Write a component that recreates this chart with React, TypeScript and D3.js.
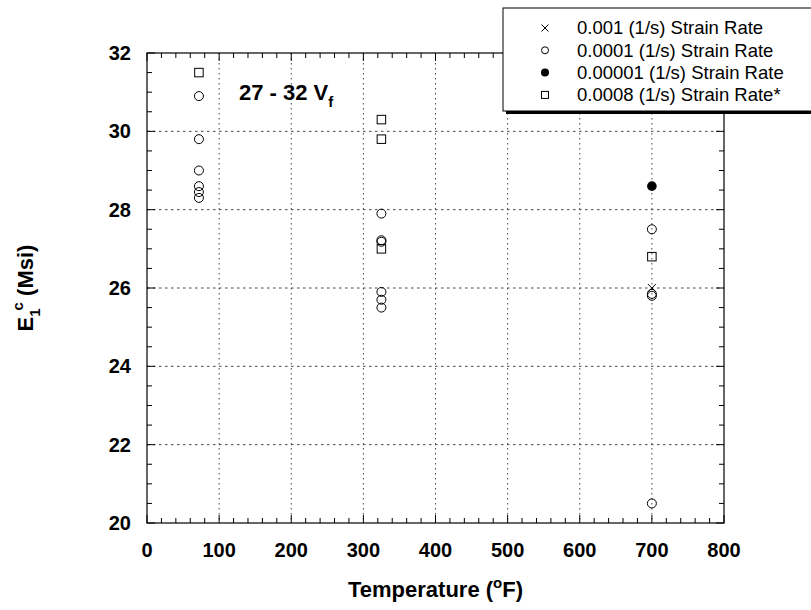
import React from "react";
import * as d3 from "d3";

// ---- data ----
const seriesLabels = [
  "0.001 (1/s) Strain Rate",
  "0.0001 (1/s) Strain Rate",
  "0.00001 (1/s) Strain Rate",
  "0.0008 (1/s) Strain Rate*",
];
const rate001Temp = [700];
const rate001E = [26.0];
const rate0001Temp = [72, 72, 72, 72, 72, 72, 325, 325, 325, 325, 325, 325, 700, 700, 700, 700];
const rate0001E = [30.9, 29.8, 29.0, 28.6, 28.45, 28.3, 27.9, 27.22, 27.18, 25.9, 25.7, 25.5, 27.5, 25.85, 25.8, 20.5];
const rate00001Temp = [700];
const rate00001E = [28.6];
const rate0008Temp = [72, 325, 325, 325, 700];
const rate0008E = [31.5, 30.3, 29.8, 27.0, 26.8];
const xTicks = [0, 100, 200, 300, 400, 500, 600, 700, 800];
const yTicks = [20, 22, 24, 26, 28, 30, 32];

const W = 811, H = 610;
const M = { left: 147, right: 724, top: 53, bottom: 523 };
const FONT = "'Liberation Sans', Arial, Helvetica, sans-serif";

export default function App() {
  const x = d3.scaleLinear().domain([0, 800]).range([M.left, M.right]);
  const y = d3.scaleLinear().domain([20, 32]).range([M.bottom, M.top]);
  const xMinor = d3.range(0, 800.001, 20);
  const yMinor = d3.range(20, 32.001, 0.5);
  const isMajorX = (v: number) => Math.abs(v % 100) < 1e-6;
  const isMajorY = (v: number) => Math.abs(v % 2) < 1e-6;
  const r = 4.5;
  const sq = 8.5;
  const cross = (cx: number, cy: number, s: number, key: string) => (
    <g key={key} stroke="#000" strokeWidth={1}>
      <line x1={cx - s} y1={cy - s} x2={cx + s} y2={cy + s} />
      <line x1={cx - s} y1={cy + s} x2={cx + s} y2={cy - s} />
    </g>
  );

  return (
    <svg width={W} height={H} style={{ position: "absolute", left: 0, top: 0, background: "#fff" }} fontFamily={FONT}>
      <rect x={0} y={0} width={W} height={H} fill="#fff" />
      {/* grid */}
      {xTicks.slice(1, -1).map((v) => (
        <line key={"gx" + v} x1={x(v)} x2={x(v)} y1={M.top} y2={M.bottom} stroke="#444" strokeWidth={1} strokeDasharray="1.5,3.5" />
      ))}
      {yTicks.slice(1, -1).map((v) => (
        <line key={"gy" + v} x1={M.left} x2={M.right} y1={y(v)} y2={y(v)} stroke="#444" strokeWidth={1} strokeDasharray="2.5,3.5" />
      ))}
      {/* ticks inward on all sides */}
      {xMinor.map((v) => {
        const L = isMajorX(v) ? 8 : 5;
        return (
          <g key={"tx" + v} stroke="#000" strokeWidth={1}>
            <line x1={x(v)} x2={x(v)} y1={M.bottom} y2={M.bottom - L} />
            <line x1={x(v)} x2={x(v)} y1={M.top} y2={M.top + L} />
          </g>
        );
      })}
      {yMinor.map((v) => {
        const L = isMajorY(v) ? 8 : 5;
        return (
          <g key={"ty" + v} stroke="#000" strokeWidth={1}>
            <line x1={M.left} x2={M.left + L} y1={y(v)} y2={y(v)} />
            <line x1={M.right} x2={M.right - L} y1={y(v)} y2={y(v)} />
          </g>
        );
      })}
      {/* frame */}
      <rect x={M.left} y={M.top} width={M.right - M.left} height={M.bottom - M.top} fill="none" stroke="#000" strokeWidth={1.2} />
      {/* tick labels */}
      {xTicks.map((v) => (
        <text key={"lx" + v} x={x(v)} y={557} textAnchor="middle" fontSize={20} fontWeight="bold">{v}</text>
      ))}
      {yTicks.map((v) => (
        <text key={"ly" + v} x={131} y={y(v)} dy="0.35em" textAnchor="end" fontSize={20} fontWeight="bold">{v}</text>
      ))}
      {/* axis titles */}
      <text x={(M.left + M.right) / 2} y={597} textAnchor="middle" fontSize={22} fontWeight="bold">
        Temperature (<tspan fontSize={15} dy={-9}>o</tspan><tspan dy={9}>F)</tspan>
      </text>
      <text transform={`translate(33,${(M.top + M.bottom) / 2}) rotate(-90)`} textAnchor="middle" fontSize={22} fontWeight="bold">
        E<tspan fontSize={15} dy={7}>1</tspan><tspan fontSize={15} dy={-17} dx={-2}>c</tspan><tspan dy={10}> (Msi)</tspan>
      </text>
      {/* annotation */}
      <text x={239} y={100} fontSize={22} fontWeight="bold">
        27 - 32 V<tspan fontSize={15} dy={7}>f</tspan>
      </text>
      {/* data */}
      {rate0001Temp.map((t, i) => (
        <circle key={"c" + i} cx={x(t)} cy={y(rate0001E[i])} r={r} fill="none" stroke="#000" strokeWidth={1} />
      ))}
      {rate0008Temp.map((t, i) => (
        <rect key={"s" + i} x={x(t) - sq / 2} y={y(rate0008E[i]) - sq / 2} width={sq} height={sq} fill="none" stroke="#000" strokeWidth={1} />
      ))}
      {rate00001Temp.map((t, i) => (
        <circle key={"f" + i} cx={x(t)} cy={y(rate00001E[i])} r={r + 0.3} fill="#000" />
      ))}
      {rate001Temp.map((t, i) => cross(x(t), y(rate001E[i]), 4, "x" + i))}
      {/* legend */}
      <rect x={506} y={11} width={310} height={103} fill="#000" />
      <rect x={503} y={8} width={310} height={103} fill="#fff" stroke="#000" strokeWidth={1} />
      {seriesLabels.map((s, i) => {
        const cy = 28 + i * 22.3;
        return (
          <g key={"lg" + i}>
            {i === 0 && cross(545, cy, 3.5, "lgx")}
            {i === 1 && <circle cx={545} cy={cy} r={3.5} fill="none" stroke="#000" />}
            {i === 2 && <circle cx={545} cy={cy} r={4} fill="#000" />}
            {i === 3 && <rect x={541.5} y={cy - 3.5} width={7} height={7} fill="none" stroke="#000" />}
            <text x={577} y={cy} dy="0.35em" fontSize={18.5}>{s}</text>
          </g>
        );
      })}
    </svg>
  );
}
